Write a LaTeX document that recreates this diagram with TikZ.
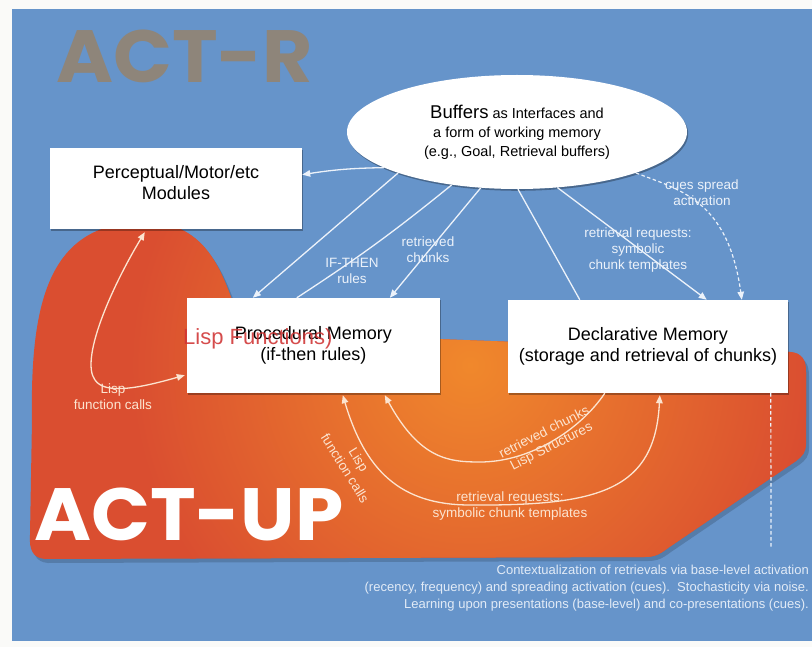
\documentclass[tikz,border=0pt]{standalone}
\usepackage{fontspec}
\setmainfont{Liberation Sans}
\newfontfamily\titlefont{Poppins}
\usetikzlibrary{arrows.meta,calc,shapes.geometric,shadows}

\definecolor{paper}{RGB}{250,250,248}
\definecolor{panelblue}{RGB}{102,148,202}
\definecolor{blobred}{RGB}{218,78,48}
\definecolor{bloborange}{RGB}{240,136,44}
\definecolor{titlegray}{RGB}{142,133,122}
\definecolor{lispred}{RGB}{208,52,52}
\definecolor{wirelight}{RGB}{236,242,250}
\definecolor{wirepeach}{RGB}{252,228,208}

% outline of the ACT-UP region
\newcommand\actupoutline{
  (45,559) .. controls (33,558) and (29,550) .. (30,535)
  -- (32,420) .. controls (30,300) and (50,225) .. (140,222)
  .. controls (200,220) and (218,262) .. (232,300)
  -- (300,334) -- (790,352)
  .. controls (802,353) and (806,360) .. (806,372)
  -- (806,444) .. controls (806,452) and (803,456) .. (796,461)
  -- (668,548) .. controls (660,554) and (655,557) .. (645,557)
  -- cycle}

\begin{document}
\begin{tikzpicture}[x=1pt,y=-1pt,
  box/.style={fill=white, inner sep=0pt, align=center,
    font=\fontsize{18}{21}\selectfont,
    drop shadow={shadow xshift=1.2pt, shadow yshift=-1.8pt, opacity=0.3, fill=black}},
  boxtext/.style={inner sep=0pt, align=center, font=\fontsize{18}{21}\selectfont},
  buffer/.style={ellipse, fill=white, inner sep=0pt, align=center,
    minimum width=340, minimum height=114,
    font=\fontsize{14.5}{19}\selectfont,
    drop shadow={shadow xshift=1.2pt, shadow yshift=-1.8pt, opacity=0.3, fill=black}},
  wire/.style={draw=wirelight, line width=1.3pt},
  warm/.style={draw=wirepeach, line width=1.3pt},
  tip/.style={-{Triangle[length=8pt,width=6.5pt]}},
  tips/.style={{Triangle[length=8pt,width=6.5pt]}-{Triangle[length=8pt,width=6.5pt]}},
  cue/.style={draw=wirelight, line width=1.2pt, dash pattern=on 3.5pt off 2.5pt},
  lbl/.style={text=wirelight, align=center, font=\fontsize{13.5}{16}\selectfont},
  warmlbl/.style={text=wirepeach, align=center, font=\fontsize{13.5}{16}\selectfont},
  bigtitle/.style={font=\titlefont\bfseries\fontsize{74}{80}\selectfont, inner sep=0pt, xscale=1.045}
]
\useasboundingbox (0,0) rectangle (812,647);
\fill[paper] (0,0) rectangle (812,647);

% blue panel
\fill[panelblue] (12,9) rectangle (812,641);

% ACT-R title
\node[bigtitle, text=titlegray, anchor=base west] (actr) at (56,83) {ACT-R};

% ACT-UP region: shadow, base colour, warm highlight
\begin{scope}[shift={(3,4)}]
  \fill[black, opacity=0.16] \actupoutline;
\end{scope}
\fill[blobred] \actupoutline;
\begin{scope}
  \clip \actupoutline;
  \shade[inner color=bloborange, outer color=blobred] (470,365) circle (340);
\end{scope}

% ACT-UP title
\node[bigtitle, text=white, anchor=base west] (actup) at (34,540) {ACT-UP};

% boxes
\node[box, minimum width=252, minimum height=81] (pm) at (176,188.5) {};
\node[boxtext] (pm-text) at (176,183) {Perceptual/Motor/etc\\Modules};
\node[box, minimum width=253, minimum height=95] (pd) at (313.5,345.5)
  {Procedural Memory\\(if-then rules)};
\node[box, minimum width=280, minimum height=93] (dm) at (648,346.5)
  {Declarative Memory\\(storage and retrieval of chunks)};
\node[buffer] (buf) at (517,132)
  {{\fontsize{18.5}{19}\selectfont Buffers} as Interfaces and\\
   a form of working memory\\
   (e.g., Goal, Retrieval buffers)};

% red overlay text on the procedural box
\node[text=lispred, opacity=0.88, anchor=west, inner sep=0pt,
  font=\fontsize{22}{24}\selectfont] (lispfn) at (183,339) {Lisp Functions)};

% connectors from the buffers
\coordinate (pmin) at ($(pm.north east)!0.33!(pm.south east)$);
\draw[wire, tip] (buf.195) to[bend right=4] (pmin);
\draw[wire, tip] (buf.199) -- ($(pd.north west)+(66,0)$);
\draw[wire] (buf.219.6) to[bend left=3] ($(pd.north west)+(110,0)$);
\draw[wire, tip] (buf.237.5) -- ($(pd.north west)+(203,0)$);
\draw[wire] (buf.271) -- ($(dm.north west)+(72,0)$);
\draw[wire, tip] (buf.306) -- ($(dm.north west)+(199,0)$);
\draw[cue, tip] (buf.341) .. controls (680,190) and (728,200) .. ($(dm.north west)+(234,0)$);

% dotted drop below the declarative box
\coordinate (ctxtop) at (771,548);
\draw[cue] ($(dm.south west)+(263,0)$) -- (ctxtop);

% Lisp function calls between modules and procedural memory
\draw[warm, tips] ($(pm.south west)+(95,3)$)
  .. controls (110,290) and (80,360) .. (95,380)
  .. controls (105,395) and (140,388) .. ($(pd.south west)+(-2,-18)$);

% procedural <-> declarative, below the boxes
\draw[warm, tips] ($(pd.south west)+(156,2)$)
  .. controls (365,470) and (400,505) .. (470,505)
  .. controls (600,506) and (655,490) .. ($(dm.south west)+(152,2)$);
\draw[warm, tip] ($(dm.south west)+(97,0)$)
  .. controls (580,430) and (530,462) .. (480,462)
  .. controls (450,462) and (420,460) .. ($(pd.south west)+(198,2)$);

% connector labels
\node[lbl] (l-ifthen) at (352,271) {IF-THEN\\rules};
\node[lbl] (l-retr) at (428,250) {retrieved\\chunks};
\node[lbl] (l-req) at (638,250) {retrieval requests:\\symbolic\\chunk templates};
\node[lbl] (l-cues) at (702,193) {cues spread\\activation};
\node[warmlbl] (l-lisp1) at (113,397) {Lisp\\function calls};
\node[warmlbl, rotate=-58] (l-lisp2) at (352,464) {Lisp\\function calls};
\node[warmlbl, rotate=27] (l-chunks) at (548,440) {retrieved chunks\\Lisp Structures};
\node[warmlbl] (l-req2) at (510,506) {retrieval requests:\\symbolic chunk templates};

% note on contextualization
\node[text=wirelight, opacity=0.92, align=right, anchor=north east, inner sep=0pt,
  font=\fontsize{13}{17}\selectfont] (note) at (809,565)
  {Contextualization of retrievals via base-level activation\\
   (recency, frequency) and spreading activation (cues).\ \ Stochasticity via noise.\\
   Learning upon presentations (base-level) and co-presentations (cues).};
\end{tikzpicture}
\end{document}
